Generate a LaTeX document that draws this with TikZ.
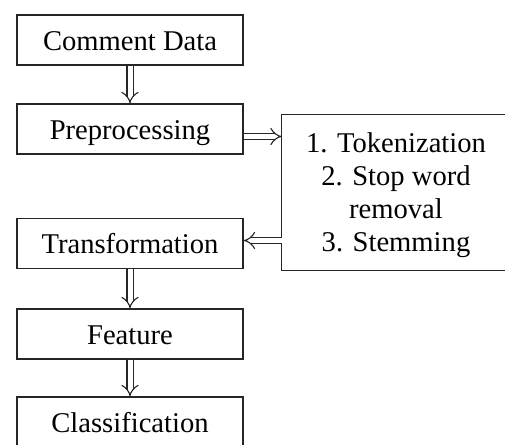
\documentclass[tikz,border=0pt]{standalone}
\usepackage{fontspec}
\setmainfont{Liberation Serif}
\usetikzlibrary{arrows.meta}
\begin{document}
\begin{tikzpicture}[x=1pt,y=-1pt,
  box/.style={draw=black!85, line width=1.3pt, minimum width=226pt, minimum height=50pt, inner sep=0pt,
    text height=20pt, text depth=0pt, font=\fontsize{28.6}{33}\selectfont},
  stepsbox/.style={minimum width=228pt, minimum height=155pt, inner sep=0pt,
    text depth=0pt, align=center, font=\fontsize{28.6}{33}\selectfont},
  edge/.style={draw=black!85, line width=1.3pt},
  dbl/.style={draw=black!85, line width=1.1pt, double, double distance=5pt, -{Implies}}]
\path[use as bounding box] (0,0) rectangle (505,444);
\node[box] (data) at (130,40) {Comment Data};
\node[box] (pre) at (130,129) {Preprocessing};
\node[box] (trans) at (130,243.5) {Transformation};
\node[box] (feat) at (130,334) {Feature};
\node[box] (cls) at (130,422) {Classification};
\node[stepsbox] (steps) at (396,192.5) {1. Tokenization\\2. Stop word\\removal\\3. Stemming};
\draw[edge] (steps.north east) -- (steps.north west) -- (steps.south west) -- (steps.south east);
\coordinate (p1) at ([yshift=-7.5pt]pre.east);
\coordinate (t1) at ([yshift=3pt]trans.east);
\draw[dbl] (data) -- (pre);
\draw[dbl] (p1) -- (p1 -| steps.west);
\draw[dbl] (t1 -| steps.west) -- (t1);
\draw[dbl] (trans) -- (feat);
\draw[dbl] (feat) -- (cls);
\end{tikzpicture}
\end{document}
